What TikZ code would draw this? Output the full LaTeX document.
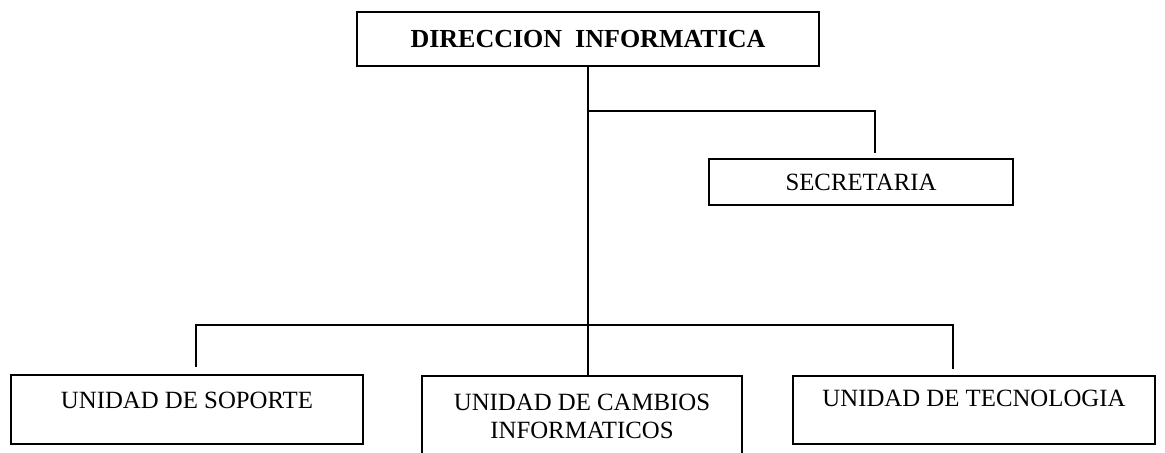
\documentclass[tikz,border=0pt]{standalone}
\usepackage{fontspec}
\setmainfont{Liberation Serif}
\usetikzlibrary{positioning}
\tikzset{
    unitbox/.style={draw, line width=0.9pt, inner sep=0pt, align=center,
        font=\fontsize{12.4}{14}\selectfont},
    link/.style={line width=0.8pt}
}

\begin{document}
\begin{tikzpicture}[x=0.5pt, y=-0.5pt]
    \clip (0, 0) rectangle (1165, 453);
    \node[unitbox, minimum width=231pt, minimum height=27pt,
        font=\fontsize{13}{15}\selectfont\bfseries] (dir) at (588, 39) {DIRECCION\ \ INFORMATICA};
    \node[unitbox, minimum width=152pt, minimum height=23pt] (sec) at (861, 182) {SECRETARIA};
    \node[unitbox, anchor=north, minimum width=176pt,
        text height=17pt, text depth=17.5pt] (sop) at (187, 374) {UNIDAD DE SOPORTE};
    \node[unitbox, minimum width=160pt, minimum height=40pt] (cam) at (582, 416) {UNIDAD DE CAMBIOS\\INFORMATICOS};
    \node[unitbox, anchor=north, minimum width=181pt,
        text height=15.5pt, text depth=18.5pt] (tec) at (974, 375) {UNIDAD DE TECNOLOGIA};
    \coordinate (secdrop) at (875, 153);
    \coordinate (sopdrop) at (196, 367);
    \coordinate (tecdrop) at (953, 369);
    \draw[link] (dir.south) -- (dir.south |- cam.north);
    \draw[link] (dir.south |- 0, 111) -| (secdrop);
    \draw[link] (sopdrop) |- (tecdrop |- 0, 325) -- (tecdrop);
\end{tikzpicture}
\end{document}
